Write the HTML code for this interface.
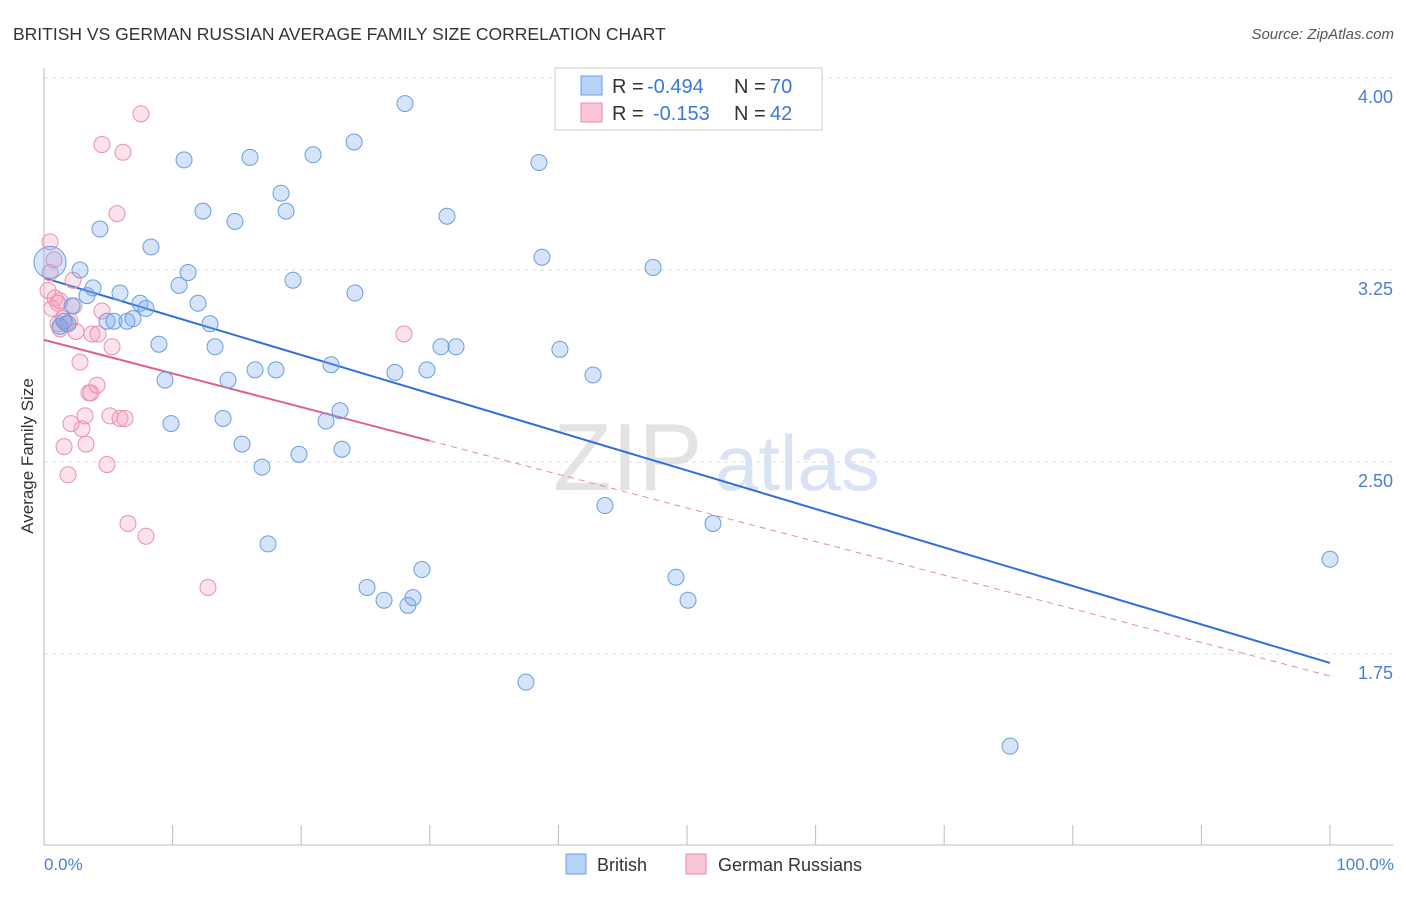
<!DOCTYPE html>
<html><head><meta charset="utf-8"><style>
body{margin:0;background:#fff;font-family:"Liberation Sans",sans-serif;}
svg text{font-family:"Liberation Sans",sans-serif;}
</style></head><body>
<svg id="chart" width="1406" height="892" xmlns="http://www.w3.org/2000/svg">
<text x="13" y="40" font-size="17.5" fill="#333">BRITISH VS GERMAN RUSSIAN AVERAGE FAMILY SIZE CORRELATION CHART</text>
<text x="1394" y="39" font-size="15" fill="#555" text-anchor="end" font-style="italic">Source: ZipAtlas.com</text>
<g>
<text x="553" y="490" font-size="96" fill="#ddd" font-family="Liberation Serif" opacity="0.8">ZIP</text>
<text x="715" y="490" font-size="78" fill="#c8daf0" opacity="0.7">atlas</text>
</g>
<g id="grid"></g>
<g id="axes"></g>
<g id="lines"></g>
<g id="pts"></g>
<text transform="translate(33,456) rotate(-90)" font-size="17" fill="#333" text-anchor="middle">Average Family Size</text>
<text x="44" y="870" font-size="17" fill="#4a7fd4">0.0%</text>
<text x="1394" y="870" font-size="17" fill="#4a7fd4" text-anchor="end">100.0%</text>
<g>
<rect x="555" y="68" width="267" height="62" fill="#fff" stroke="#ccc"/>
<rect x="581" y="76" width="21" height="19" fill="#b8d3f5" stroke="#6a9de0"/>
<rect x="581" y="103" width="21" height="19" fill="#f9c6d6" stroke="#e88aa8"/>
<text x="612" y="93" font-size="20" fill="#333">R =</text>
<text x="647" y="93" font-size="20" fill="#3b78d8">-0.494</text>
<text x="734" y="93" font-size="20" fill="#333">N =</text>
<text x="770" y="93" font-size="20" fill="#3b78d8">70</text>
<text x="612" y="120" font-size="20" fill="#333">R =</text>
<text x="653" y="120" font-size="20" fill="#3b78d8">-0.153</text>
<text x="734" y="120" font-size="20" fill="#333">N =</text>
<text x="770" y="120" font-size="20" fill="#3b78d8">42</text>
</g>
<g>
<rect x="566" y="854" width="20" height="20" fill="#b8d3f5" stroke="#6a9de0"/>
<text x="597" y="871" font-size="18" fill="#333">British</text>
<rect x="686" y="854" width="20" height="20" fill="#f9c6d6" stroke="#e88aa8"/>
<text x="718" y="871" font-size="18" fill="#333">German Russians</text>
</g>
</svg>
<script>
const yTicks=[4.00,3.25,2.50,1.75];
const yTickLabels=["4.00","3.25","2.50","1.75"];
const britishX=[0.47,1.24,1.87,2.18,2.80,3.34,3.81,4.35,4.90,5.44,5.91,6.45,6.92,7.47,7.93,8.32,8.94,9.41,9.88,10.50,10.89,11.20,11.98,12.36,12.91,13.30,13.92,14.31,14.85,15.40,16.02,16.41,16.95,17.42,18.04,18.43,18.82,19.36,19.83,20.92,21.93,22.32,23.02,23.17,24.11,24.18,25.12,26.44,27.29,28.07,28.30,28.69,29.39,29.78,30.87,31.34,32.04,37.48,38.49,38.72,40.12,42.69,43.62,47.36,49.14,50.08,52.02,75.12,100,1.56];
const britishY=[3.28,3.03,3.04,3.11,3.25,3.15,3.18,3.41,3.05,3.05,3.16,3.05,3.06,3.12,3.10,3.34,2.96,2.82,2.65,3.19,3.68,3.24,3.12,3.48,3.04,2.95,2.67,2.82,3.44,2.57,3.69,2.86,2.48,2.18,2.86,3.55,3.48,3.21,2.53,3.70,2.66,2.88,2.70,2.55,3.75,3.16,2.01,1.96,2.85,3.90,1.94,1.97,2.08,2.86,2.95,3.46,2.95,1.64,3.67,3.30,2.94,2.84,2.33,3.26,2.05,1.96,2.26,1.39,2.12,3.05];
const germanX=[0.47,0.47,0.31,0.62,0.86,1.09,1.24,1.48,1.71,2.02,2.26,2.33,2.49,2.80,2.95,3.19,3.27,3.50,3.65,4.12,3.73,4.20,4.51,4.51,4.90,5.13,5.29,5.68,5.91,6.14,6.30,6.53,7.54,7.93,12.75,27.99,1.87,1.56,2.10,0.78,1.09,1.24];
const germanY=[3.36,3.24,3.17,3.10,3.14,3.04,3.13,3.06,3.04,3.05,3.21,3.11,3.01,2.89,2.63,2.68,2.57,2.77,2.77,2.80,3.00,3.00,3.09,3.74,2.49,2.68,2.95,3.47,2.67,3.71,2.67,2.26,3.86,2.21,2.01,3.00,2.45,2.56,2.65,3.29,3.12,3.02];
const britishTrend=[3.219,1.715];
const germanTrend=[2.977,1.664];
const germanSolidEnd=30;
const NS="http://www.w3.org/2000/svg";
const xs=v=>44+v*12.86;
const ys=v=>78+(4-v)*256;
function mk(tag,attrs,parent){const e=document.createElementNS(NS,tag);for(const k in attrs)e.setAttribute(k,attrs[k]);parent.appendChild(e);return e;}
const grid=document.getElementById('grid'),axes=document.getElementById('axes'),lines=document.getElementById('lines'),pts=document.getElementById('pts');
yTicks.forEach((t,i)=>{
 const l=mk('line',{x1:44,x2:1393,y1:ys(t),y2:ys(t),stroke:'#ddd','stroke-dasharray':'4,4'},grid);
 
 
 const tx=mk('text',{x:1393,y:ys(t)+25,'font-size':18,fill:'#4a7fd4','text-anchor':'end'},grid);
 tx.textContent=yTickLabels[i];
 
 
});
mk('line',{x1:44,x2:44,y1:68,y2:845,stroke:'#bbb'},axes);
mk('line',{x1:44,x2:1393,y1:845,y2:845,stroke:'#bbb'},axes);
for(let i=0;i<=10;i++){const t=mk('line',{x1:xs(i*10),x2:xs(i*10),y1:825,y2:845,stroke:'#bbb'},axes);
 
 }
const bl=mk('line',{x1:xs(0),y1:ys(britishTrend[0]),x2:xs(100),y2:ys(britishTrend[1]),stroke:'#2f6fd6','stroke-width':2},lines);


const gy=x=>germanTrend[0]+(germanTrend[1]-germanTrend[0])*x/100;
const gl=mk('line',{x1:xs(0),y1:ys(gy(0)),x2:xs(germanSolidEnd),y2:ys(gy(germanSolidEnd)),stroke:'#e0608e','stroke-width':2},lines);


const gd=mk('line',{x1:xs(germanSolidEnd),y1:ys(gy(germanSolidEnd)),x2:xs(100),y2:ys(gy(100)),stroke:'#e88aa8','stroke-width':1,'stroke-dasharray':'6,5'},lines);


germanX.forEach((x,i)=>{const c=mk('circle',{cx:xs(x),cy:ys(germanY[i]),r:8,fill:'rgba(244,160,190,0.3)',stroke:'#e890ad','stroke-width':1},pts);
 
 });
britishX.forEach((x,i)=>{const c=mk('circle',{cx:xs(x),cy:ys(britishY[i]),r:i===0?16:8,fill:'rgba(120,165,235,0.3)',stroke:'#6a9de0','stroke-width':1},pts);
 
 });
</script>
</body></html>
